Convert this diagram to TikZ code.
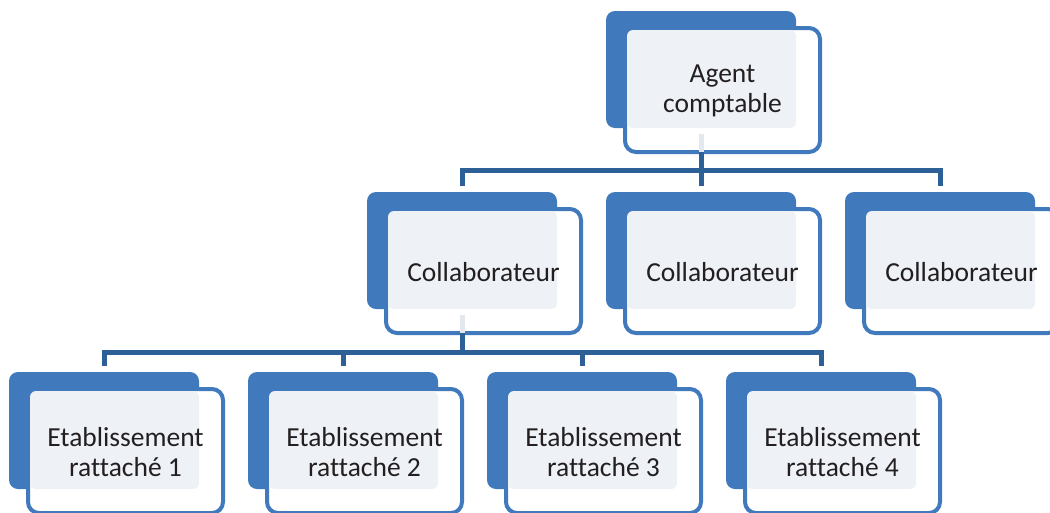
\documentclass[tikz,border=0pt]{standalone}
\usepackage{fontspec}
\setmainfont[Ligatures=NoCommon]{Carlito}
\definecolor{boxblue}{HTML}{4179BD}
\definecolor{busblue}{HTML}{2D6097}
\definecolor{lightfill}{HTML}{EEF2F7}
\definecolor{lightline}{HTML}{E3E8EF}
\definecolor{txt}{HTML}{231F20}
\tikzset{
  backbox/.style={draw=none, fill=boxblue, rounded corners=9pt, minimum width=190pt, minimum height=117pt, anchor=north west, inner sep=0pt, outer sep=0pt},
  frontbox/.style={draw=boxblue, fill=white, line width=4pt, rounded corners=11pt, minimum width=195pt, minimum height=124pt, anchor=north west, inner sep=0pt, outer sep=0pt},
  lbl/.style={text=txt, font=\fontsize{27.5}{30.5}\selectfont, align=center, inner sep=0pt},
  busline/.style={draw=busblue, line width=5pt},
  lightseg/.style={draw=lightline, line width=5pt},
}
\newcommand{\orgbox}[4]{%
  \node[backbox] (#1b) at (#2,#3) {};
  \node[frontbox] (#1) at (#2+19,#3+17) {};
  \fill[lightfill, rounded corners=6pt] (#1.north west) ++(2,2) rectangle (#1b.south east);
  \node[lbl] (#1t) at ([yshift=-1pt]#1.center) {#4};
}
\begin{document}
\begin{tikzpicture}[x=1pt,y=-1pt]
\useasboundingbox (0,0) rectangle (1050,512);
\orgbox{top}{606}{11}{Agent\\comptable}
\orgbox{ca}{367}{192}{Collaborateur}
\orgbox{cb}{606}{192}{Collaborateur}
\orgbox{cc}{845}{192}{Collaborateur}
\orgbox{ea}{9}{372}{Etablissement\\rattaché 1}
\orgbox{eb}{248}{372}{Etablissement\\rattaché 2}
\orgbox{ec}{487}{372}{Etablissement\\rattaché 3}
\orgbox{ed}{726}{372}{Etablissement\\rattaché 4}
\coordinate (busA) at (0,170);
\coordinate (busB) at (0,352);
% top level
\draw[lightseg] ([yshift=-6pt]topb.south) -- (topb.south |- top.south);
\draw[busline] (topb.south |- top.south) -- (topb.south |- busA);
\draw[busline] ([xshift=-2.5pt]cab.north |- busA) -- ([xshift=2.5pt]ccb.north |- busA);
\draw[busline] (cab.north |- busA) -- ([yshift=6pt]cab.north);
\draw[busline] (cbb.north |- busA) -- ([yshift=6pt]cbb.north);
\draw[busline] (ccb.north |- busA) -- ([yshift=6pt]ccb.north);
% second level
\draw[lightseg] ([yshift=-6pt]cab.south) -- (cab.south |- ca.south);
\draw[busline] (cab.south |- ca.south) -- (cab.south |- busB);
\draw[busline] ([xshift=-2.5pt]eab.north |- busB) -- ([xshift=2.5pt]edb.north |- busB);
\draw[busline] (eab.north |- busB) -- ([yshift=6pt]eab.north);
\draw[busline] (ebb.north |- busB) -- ([yshift=6pt]ebb.north);
\draw[busline] (ecb.north |- busB) -- ([yshift=6pt]ecb.north);
\draw[busline] (edb.north |- busB) -- ([yshift=6pt]edb.north);
\end{tikzpicture}
\end{document}
